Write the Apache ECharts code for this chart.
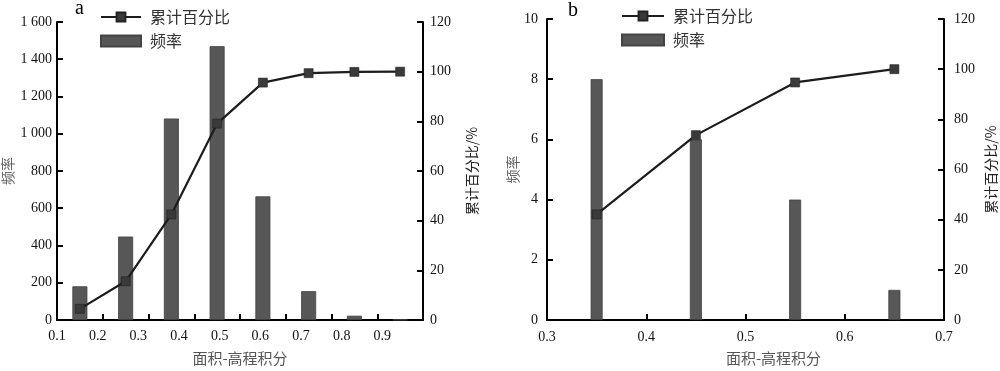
<!DOCTYPE html>
<html><head><meta charset="utf-8">
<script src="https://cdn.jsdelivr.net/npm/echarts@6/dist/echarts.min.js"></script>
<style>html,body{margin:0;padding:0;background:#fff}#c{width:1000px;height:371px}</style>
</head><body><div id="c"></div>
<script>
// ---- Data ----
const binsA = ['0.156','0.269','0.381','0.494','0.606','0.719','0.831','0.944'];
const freqA = [181, 448, 1082, 1470, 664, 155, 23, 2];
const cumA = [4.5, 15.6, 42.5, 79.1, 95.6, 99.4, 99.9, 100];
const xTicksA = [0.1, 0.2, 0.3, 0.4, 0.5, 0.6, 0.7, 0.8, 0.9];

const binsB = [0.35, 0.45, 0.55, 0.65];
const freqB = [8, 6, 4, 1];
const cumB = [42.1, 73.7, 94.7, 100];

const serif = '"Liberation Serif","DejaVu Serif",serif';
const cjk = '"Noto Sans CJK SC","Noto Sans",sans-serif';
const BAR = '#575757';
const LINE = '#1c1c1c';
const MARK = '#3a3a3a';

const chart = echarts.init(document.getElementById('c'));

function yAxisBase(grid, pos, min, max, interval, name, gap, margin, fmt, nameColor){
  return {
    type:'value', gridIndex:grid, position:pos, min:min, max:max, interval:interval,
    name:name, nameLocation:'middle', nameGap:gap, nameRotate:90,
    nameTextStyle:{fontFamily:cjk, fontSize:14, color:nameColor},
    axisLine:{show:true, lineStyle:{color:'#000', width:2}},
    axisTick:{show:true, inside:true, length:6, lineStyle:{color:'#000', width:2}},
    axisLabel:{fontFamily:serif, fontSize:14, color:'#111', margin:margin, formatter:fmt},
    splitLine:{show:false}
  };
}
const thou = v => v >= 1000 ? String(Math.floor(v/1000)) + ' ' + String(v%1000).padStart(3,'0') : String(v);

const legendText = {fontFamily:cjk, fontSize:16, color:'#333', padding:[0,0,0,4]};

const option = {
  animation:false,
  title:[
    {text:'a', left:70, top:-6, textStyle:{fontFamily:serif, fontSize:20, fontWeight:'normal', color:'#000'}},
    {text:'b', left:563, top:-4, textStyle:{fontFamily:serif, fontSize:20, fontWeight:'normal', color:'#000'}}
  ],
  legend:[
    {orient:'vertical', left:100, top:9, padding:0, itemWidth:40, itemHeight:11, itemGap:8,
     textStyle:legendText, data:[{name:'累计百分比'},{name:'频率', icon:'rect'}]},
    {orient:'vertical', left:621, top:8, padding:0, itemWidth:42, itemHeight:11, itemGap:8,
     textStyle:legendText, data:[{name:'累计百分比 '},{name:'频率 ', icon:'rect'}]}
  ],
  grid:[
    {left:57, right:577, top:22, bottom:45},
    {left:547, right:56, top:19, bottom:46}
  ],
  xAxis:[
    {type:'category', gridIndex:0, data:binsA, boundaryGap:true,
     axisLine:{show:true, lineStyle:{color:'#000', width:2}},
     axisTick:{show:true, inside:true, length:6, interval:0, lineStyle:{color:'#000', width:2}},
     axisLabel:{show:false}},
    {type:'value', gridIndex:0, position:'bottom', min:0.1, max:1.0, interval:0.1,
     axisLine:{show:false}, axisTick:{show:false}, splitLine:{show:false},
     axisLabel:{fontFamily:serif, fontSize:14, color:'#111', margin:9, showMaxLabel:false,
       formatter:v => xTicksA.some(t => Math.abs(t-v) < 1e-6) ? v.toFixed(1) : ''},
     name:'面积-高程积分', nameLocation:'middle', nameGap:31,
     nameTextStyle:{fontFamily:cjk, fontSize:15, color:'#555'}},
    {type:'value', gridIndex:1, min:0.3, max:0.7, interval:0.1,
     axisLine:{show:true, lineStyle:{color:'#000', width:2}},
     axisTick:{show:true, inside:true, length:6, lineStyle:{color:'#000', width:2}},
     splitLine:{show:false},
     axisLabel:{fontFamily:serif, fontSize:14, color:'#111', margin:10, formatter:v => v.toFixed(1)},
     name:'面积-高程积分', nameLocation:'middle', nameGap:31,
     nameTextStyle:{fontFamily:cjk, fontSize:15, color:'#555', padding:[0,0,0,56]}}
  ],
  yAxis:[
    yAxisBase(0,'left',0,1600,200,'频率',42,5,thou,'#666'),
    yAxisBase(0,'right',0,120,20,'累计百分比/%',42,7,null,'#222'),
    yAxisBase(1,'left',0,10,2,'频率',27,9,null,'#666'),
    yAxisBase(1,'right',0,120,20,'累计百分比/%',40,10,null,'#222')
  ],
  series:[
    {name:'频率', type:'bar', xAxisIndex:0, yAxisIndex:0, data:freqA, barWidth:15,
     itemStyle:{color:BAR, borderColor:'#444', borderWidth:0.8}},
    {name:'累计百分比', type:'line', xAxisIndex:0, yAxisIndex:1, data:cumA,
     symbol:'rect', symbolSize:9, lineStyle:{color:LINE, width:2.2},
     itemStyle:{color:MARK, borderColor:'#222', borderWidth:0.6}, z:5},
    {name:'频率 ', type:'bar', xAxisIndex:2, yAxisIndex:2, data:binsB.map((x,i)=>[x,freqB[i]]), barWidth:12,
     itemStyle:{color:BAR, borderColor:'#444', borderWidth:0.8}},
    {name:'累计百分比 ', type:'line', xAxisIndex:2, yAxisIndex:3, data:binsB.map((x,i)=>[x,cumB[i]]),
     symbol:'rect', symbolSize:9, lineStyle:{color:LINE, width:2.2},
     itemStyle:{color:MARK, borderColor:'#222', borderWidth:0.6}, z:5}
  ]
};
chart.setOption(option);
</script></body></html>
